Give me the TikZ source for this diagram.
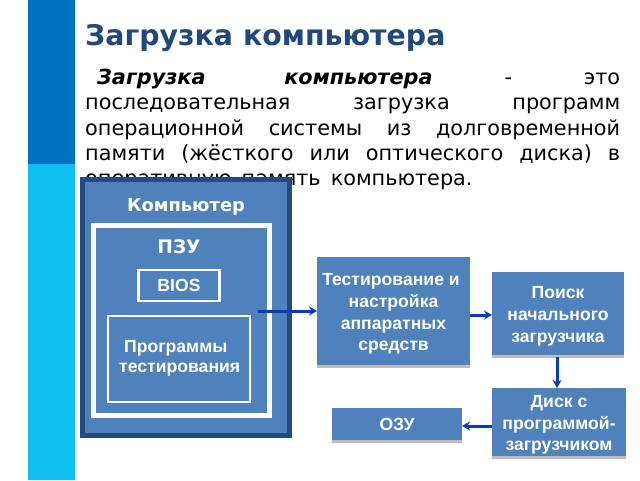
\documentclass[tikz,border=0pt]{standalone}
\usepackage{fontspec}
\setmainfont{DejaVu Sans}
\newfontfamily\arialf{Liberation Sans}
\usetikzlibrary{shadows,arrows.meta}
\definecolor{bluefill}{HTML}{4F81BD}
\definecolor{bluedark}{HTML}{234B7F}
\definecolor{titleblue}{HTML}{1F497D}
\definecolor{bardark}{HTML}{0070C0}
\definecolor{barlight}{HTML}{10BFF2}
\definecolor{arrowblue}{HTML}{0A3CB4}
\definecolor{shadowgray}{HTML}{BDBDBD}
\newcommand{\pushdown}{\rule{0pt}{18pt}}
\tikzset{
  x=1pt,y=-1pt,
  boxbase/.style={anchor=north west,inner sep=0pt,outer sep=0pt,fill=bluefill},
  stepbox/.style={boxbase,general shadow={fill=shadowgray,shadow xshift=0pt,shadow yshift=-3pt},
    text=white,align=center,font=\arialf\bfseries\fontsize{17.6}{21.7}\selectfont},
  whitebox/.style={boxbase,draw=white,text=white,align=center},
  flow/.style={draw=arrowblue,line width=3pt,-{Stealth[length=8pt,width=9pt]}},
}
\begin{document}
\begin{tikzpicture}
\useasboundingbox (0,0) rectangle (640,480);
\fill[white] (0,0) rectangle (640,480);
\fill[barlight] (28,164) rectangle (75,480);
\fill[bardark] (28,0) rectangle (75,164);
\node[anchor=west,inner sep=0pt,text=titleblue,font=\bfseries\fontsize{28.4}{32}\selectfont] (title) at (85,38) {Загрузка компьютера};
\node[anchor=north west,inner sep=0pt,text width=535pt,align=justify,font=\fontsize{20.8}{25.2}\selectfont] (body) at (85,69)
 {\hspace*{12pt}\textbf{\textit{Загрузка компьютера}} - это\linebreak
 последовательная загрузка программ\linebreak
 операционной системы из долговременной\linebreak
 памяти (жёсткого или оптического диска) в\linebreak
 оперативную\hspace{3.5pt} память\hspace{3.5pt} компьютера.};
\node[boxbase,draw=bluedark,line width=5pt,minimum width=207pt,minimum height=256pt] (comp) at (82,179) {};
\node[text=white,inner sep=0pt,font=\bfseries\fontsize{17.9}{20}\selectfont] (complabel) at (186,207) {Компьютер};
\node[whitebox,line width=5pt,minimum width=176pt,minimum height=190pt] (rom) at (93.5,225.5) {};
\node[text=white,inner sep=0pt,font=\bfseries\fontsize{18.6}{20}\selectfont] (romlabel) at (179,247) {ПЗУ};
\node[whitebox,line width=2.5pt,minimum width=81pt,minimum height=31pt,font=\arialf\bfseries\fontsize{17.6}{20}\selectfont] (bios) at (138.5,270) {BIOS};
\node[whitebox,line width=2.5pt,minimum width=142pt,minimum height=86pt] (prog) at (108,316) {};
\node[anchor=west,inner sep=0pt,text=white,font=\arialf\bfseries\fontsize{17.6}{20}\selectfont] (proga) at (124,348) {Программы};
\node[anchor=west,inner sep=0pt,text=white,font=\arialf\bfseries\fontsize{17.6}{20}\selectfont] (progb) at (119,370) {тестирования};
\coordinate (romout) at (258,311);
\node[stepbox,minimum width=153pt,minimum height=108pt] (test) at (317,257) {\pushdown Тестирование и\hspace{5pt}\mbox{}\\настройка\\аппаратных\\средств};
\node[stepbox,minimum width=132pt,minimum height=83pt] (search) at (492,272) {\pushdown Поиск\\начального\\загрузчика};
\node[stepbox,minimum width=134pt,minimum height=68pt] (disk) at (492,388) {\pushdown Диск с\\программой-\\загрузчиком};
\node[stepbox,minimum width=130pt,minimum height=32pt] (ram) at (332,408) {ОЗУ};
\draw[flow] (romout) -- (romout -| test.west);
\draw[flow] (test.east |- 0,315) -- (search.west |- 0,315);
\draw[flow] (search.south -| 557,0) ++(0,2) -- (disk.north -| 557,0);
\draw[flow] (disk.west |- 0,426) -- (ram.east |- 0,426);
\end{tikzpicture}
\end{document}
